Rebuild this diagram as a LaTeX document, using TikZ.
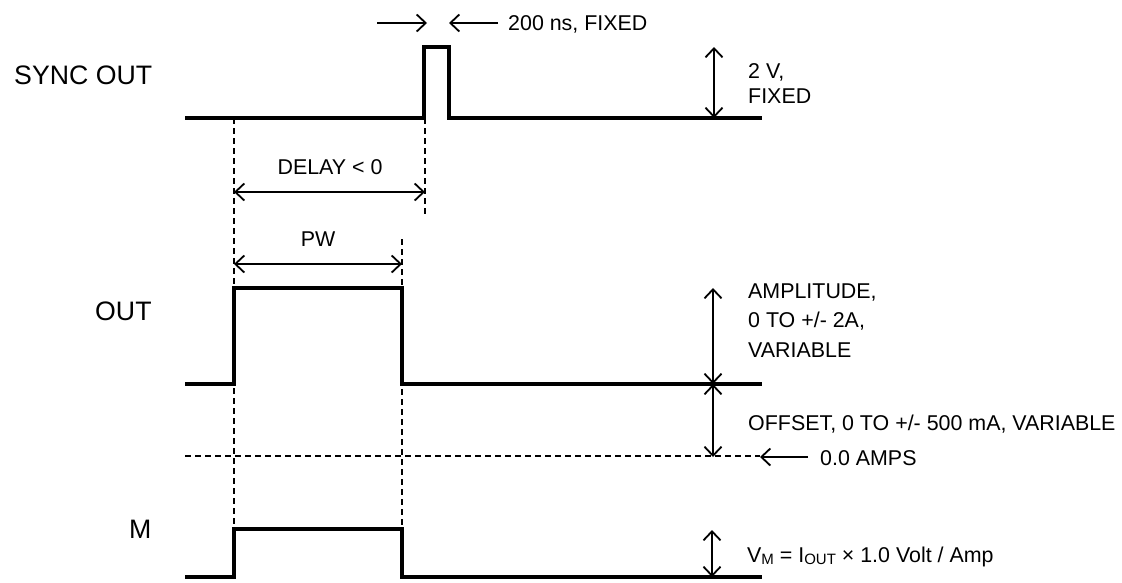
\documentclass[tikz,border=0pt]{standalone}
\usepackage{fontspec}
\setmainfont{Liberation Sans}
\usetikzlibrary{arrows.meta}
\begin{document}
\begin{tikzpicture}[x=1pt,y=-1pt,
  sig/.style={line width=3.6pt, line join=miter},
  guide/.style={line width=1.3pt, dash pattern=on 6pt off 4pt},
  barb/.style={line width=1.8pt},
  tip/.tip={Straight Barb[length=9pt,width=17pt,line width=1.8pt]},
  dimboth/.style={barb, tip-tip},
  dimone/.style={barb, -tip},
  lbl/.style={font=\fontsize{26.7}{30}\selectfont, inner sep=0pt, anchor=base west},
  txt/.style={font=\fontsize{21.4}{25}\selectfont, inner sep=0pt, anchor=base west}]
\useasboundingbox (0,0) rectangle (1122,582);

% labels
\node[lbl] (lsync) at (14,84) {SYNC OUT};
\node[lbl] (lout) at (95,320) {OUT};
\node[lbl] (lm) at (129,538) {M};

% SYNC OUT signal
\coordinate (s0) at (185,118);
\coordinate (s1) at (424,118);
\coordinate (s2) at (424,47);
\coordinate (s3) at (449,47);
\coordinate (s4) at (449,118);
\coordinate (s5) at (762,118);
\draw[sig] (s0) -- (s1) -- (s2) -- (s3) -- (s4) -- (s5);

% OUT signal
\coordinate (o0) at (185,384);
\coordinate (o1) at (234,384);
\coordinate (o2) at (234,288);
\coordinate (o3) at (402,288);
\coordinate (o4) at (402,384);
\coordinate (o5) at (762,384);
\draw[sig] (o0) -- (o1) -- (o2) -- (o3) -- (o4) -- (o5);

% M signal
\coordinate (m0) at (185,577);
\coordinate (m1) at (234,577);
\coordinate (m2) at (234,529);
\coordinate (m3) at (402,529);
\coordinate (m4) at (402,577);
\coordinate (m5) at (762,577);
\draw[sig] (m0) -- (m1) -- (m2) -- (m3) -- (m4) -- (m5);

% guides
\coordinate (g1a) at (234,118);
\coordinate (g1b) at (234,577);
\coordinate (g2a) at (425,118);
\coordinate (g2b) at (425,215);
\coordinate (g3a) at (402,239);
\coordinate (g3b) at (402,577);
\coordinate (z0) at (185,456);
\coordinate (z1) at (760,456);
\draw[guide] (g1a) -- (g1b);
\draw[guide] (g2a) -- (g2b);
\draw[guide] (g3a) -- (g3b);
\draw[guide] (z0) -- (z1);

% 200 ns arrows
\coordinate (w1a) at (377,23);
\coordinate (w1b) at (427,23);
\coordinate (w2a) at (498,23);
\coordinate (w2b) at (449,23);
\draw[dimone] (w1a) -- (w1b);
\draw[dimone] (w2a) -- (w2b);
\node[txt] (t200) at (508,30.5) {200 ns, FIXED};

% DELAY
\coordinate (d0) at (234,192);
\coordinate (d1) at (425,192);
\draw[dimboth] (d0) -- (d1);
\node[txt, anchor=base] (tdelay) at (330,174.5) {DELAY < 0};

% PW
\coordinate (p0) at (234,264);
\coordinate (p1) at (402,264);
\draw[dimboth] (p0) -- (p1);
\node[txt, anchor=base] (tpw) at (318,246.5) {PW};

% 2 V
\coordinate (v0) at (714,47);
\coordinate (v1) at (714,118);
\draw[dimboth] (v0) -- (v1);
\node[txt] (t2v) at (748,78.5) {2 V,};
\node[txt] (t2vb) at (748,103) {FIXED};

% Amplitude
\coordinate (a0) at (713,288);
\coordinate (a1) at (713,384);
\draw[dimboth] (a0) -- (a1);
\node[txt] (tamp1) at (748,298.5) {AMPLITUDE,};
\node[txt] (tamp2) at (748,327.5) {0 TO +/- 2A,};
\node[txt] (tamp3) at (748,357.5) {VARIABLE};

% Offset
\coordinate (f0) at (713,384);
\coordinate (f1) at (713,457);
\draw[dimboth] (f0) -- (f1);
\node[txt] (toff) at (748,430) {OFFSET, 0 TO +/- 500 mA, VARIABLE};

% 0.0 AMPS
\coordinate (za) at (808,457);
\coordinate (zb) at (760,457);
\draw[dimone] (za) -- (zb);
\node[txt] (tamps) at (820,465.5) {0.0 AMPS};

% VM
\coordinate (vm0) at (712,530);
\coordinate (vm1) at (712,577);
\draw[dimboth] (vm0) -- (vm1);
\node[txt] (tvm) at (747,562) {V\raisebox{-0.25ex}{\fontsize{15}{15}\selectfont M} = I\raisebox{-0.25ex}{\fontsize{15}{15}\selectfont OUT} × 1.0 Volt / Amp};
\end{tikzpicture}
\end{document}
